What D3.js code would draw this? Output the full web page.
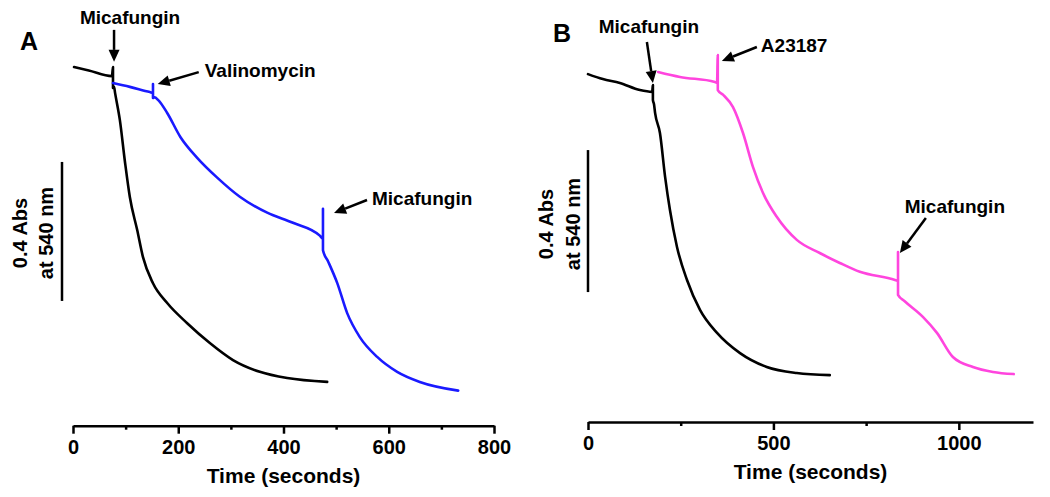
<!DOCTYPE html>
<html><head><meta charset="utf-8">
<script src="https://cdn.jsdelivr.net/npm/d3@7"></script>
<style>body{margin:0;background:#fff}svg{display:block}text{font-family:"Liberation Sans",Arial,sans-serif;font-weight:bold;fill:#000}</style>
</head><body>
<svg id="c" width="1050" height="497"></svg>
<script>
// Panel A: control (black) and valinomycin pre-treated (blue)
const aBlackT = [2, 30, 74, 76, 76, 78, 80, 89, 99, 108, 122, 133, 152, 179, 217, 260, 304, 355, 407, 483];
const aBlackV = [1.032, 1.022, 1.006, 1.032, 0.972, 0.975, 0.957, 0.880, 0.756, 0.658, 0.563, 0.485, 0.410, 0.353, 0.295, 0.238, 0.189, 0.155, 0.137, 0.126];
const aBlueT = [76, 108, 146, 152, 152, 152, 155, 162, 179, 204, 236, 274, 317, 369, 418, 469, 475, 475, 475, 485, 502, 521, 545, 578, 616, 659, 732];
const aBlueV = [0.986, 0.975, 0.960, 0.958, 0.983, 0.943, 0.945, 0.937, 0.900, 0.831, 0.771, 0.714, 0.659, 0.613, 0.584, 0.547, 0.538, 0.624, 0.505, 0.472, 0.411, 0.324, 0.255, 0.198, 0.155, 0.126, 0.101];
// Panel B: control (black) and A23187 pre-treated (pink)
const bBlackT = [0, 40, 86, 140, 173, 175, 175, 178, 181, 194, 208, 221, 240, 267, 302, 348, 410, 482, 563, 652];
const bBlackV = [0.980, 0.966, 0.955, 0.935, 0.930, 0.949, 0.907, 0.895, 0.870, 0.814, 0.690, 0.597, 0.493, 0.400, 0.316, 0.251, 0.194, 0.155, 0.138, 0.132];
const bPinkT = [189, 248, 342, 348, 350, 350, 364, 391, 418, 445, 472, 509, 563, 625, 679, 733, 828, 836, 836, 836, 854, 903, 941, 984, 1038, 1092, 1148];
const bPinkV = [0.986, 0.972, 0.958, 0.956, 1.034, 0.935, 0.922, 0.887, 0.814, 0.718, 0.645, 0.578, 0.513, 0.476, 0.448, 0.423, 0.400, 0.397, 0.479, 0.358, 0.340, 0.296, 0.251, 0.183, 0.155, 0.141, 0.135];

const aTicks = [0, 200, 400, 600, 800];
const aMinor = [100, 300, 500, 700];
const bTicks = [0, 500, 1000];
const bMinor = [250, 750];
const scaleBarAbs = 0.4;
const scaleLabel = ["0.4 Abs", "at 540 nm"];
const xTitle = "Time (seconds)";

// annotations: label, tip time, tip value
const aNotes = [
  {label: "Micafungin", t: 78, v: 1.047},
  {label: "Valinomycin", t: 161, v: 0.983},
  {label: "Micafungin", t: 496, v: 0.612}
];
const bNotes = [
  {label: "Micafungin", t: 175, v: 0.955},
  {label: "A23187", t: 361, v: 1.017},
  {label: "Micafungin", t: 841, v: 0.476}
];

const svg = d3.select("#c");
const BLUE = "#1a1aff", PINK = "#ff45de";

function panel(cfg) {
  const g = svg.append("g");
  const x = d3.scaleLinear().domain(cfg.xDomain).range(cfg.xRange);
  const y = d3.scaleLinear().domain([0, scaleBarAbs]).range([cfg.y0, cfg.y0 - cfg.barPx]);
  // axis
  const ax = g.append("g").attr("transform", `translate(0,${cfg.y0})`)
    .call(d3.axisBottom(x).tickValues(cfg.ticks).tickSizeInner(8).tickSizeOuter(0).tickPadding(6).tickFormat(d3.format("d")));
  ax.select(".domain").attr("stroke", "#000").attr("stroke-width", 2.5);
  ax.selectAll(".tick line").attr("stroke-width", 2.5);
  ax.selectAll(".tick text").attr("font-size", 20).attr("font-family", '"Liberation Sans",Arial,sans-serif').attr("font-weight", "bold");
  g.append("g").attr("transform", `translate(0,${cfg.y0})`)
    .call(d3.axisBottom(x).tickValues(cfg.minor).tickSizeInner(4).tickSizeOuter(0).tickFormat(""))
    .call(s => s.select(".domain").remove())
    .selectAll(".tick line").attr("stroke-width", 2.5);
  g.append("text").attr("x", (cfg.xRange[0] + cfg.xRange[1]) / 2).attr("y", cfg.y0 + 57)
    .attr("text-anchor", "middle").attr("font-size", 21).text(xTitle);
  // scale bar
  g.append("line").attr("x1", cfg.barX).attr("x2", cfg.barX)
    .attr("y1", y(cfg.barTop)).attr("y2", y(cfg.barTop - scaleBarAbs))
    .attr("stroke", "#000").attr("stroke-width", 2.5);
  scaleLabel.forEach((s, i) => {
    g.append("text").attr("transform", `translate(${cfg.labX[i]},${cfg.labY}) rotate(-90)`)
      .attr("text-anchor", "middle").attr("font-size", 20).text(s);
  });
  // curves
  const line = d3.line().x(d => x(d[0])).y(d => y(d[1])).curve(d3.curveMonotoneX);
  cfg.series.forEach(s => {
    g.append("path").datum(d3.zip(s.t, s.v)).attr("d", line)
      .attr("fill", "none").attr("stroke", s.color).attr("stroke-width", 2.6)
      .attr("stroke-linejoin", "round").attr("stroke-linecap", "round");
  });
  // annotations
  cfg.notes.forEach((n, i) => {
    const o = cfg.noteOff[i];
    const tx = x(n.t), ty = y(n.v);
    const sx = tx + o.dx, sy = ty + o.dy;
    const ang = Math.atan2(ty - sy, tx - sx);
    const hl = 12, hw = 5.5;
    const bx = tx - hl * Math.cos(ang), by = ty - hl * Math.sin(ang);
    g.append("line").attr("x1", sx).attr("y1", sy).attr("x2", bx).attr("y2", by)
      .attr("stroke", "#000").attr("stroke-width", 2.5);
    const px = -Math.sin(ang) * hw, py = Math.cos(ang) * hw;
    g.append("path").attr("d", `M${tx},${ty}L${bx + px},${by + py}L${bx - px},${by - py}Z`).attr("fill", "#000");
    g.append("text").attr("x", tx + o.lx).attr("y", ty + o.ly).attr("text-anchor", o.anchor)
      .attr("font-size", 19).text(n.label);
  });
  g.append("text").attr("x", cfg.letter[0]).attr("y", cfg.letter[1]).attr("font-size", 25).text(cfg.letter[2]);
}

panel({
  xDomain: [0, 800], xRange: [73, 494], y0: 425.7, barPx: 139, ticks: aTicks, minor: aMinor,
  barX: 62, barTop: 0.759, labX: [27, 53], labY: 233,
  series: [{t: aBlackT, v: aBlackV, color: "#000"}, {t: aBlueT, v: aBlueV, color: BLUE}],
  notes: aNotes,
  noteOff: [
    {dx: 0, dy: -32, lx: 16, ly: -38, anchor: "middle"},
    {dx: 41, dy: -12, lx: 47, ly: -7, anchor: "start"},
    {dx: 33, dy: -13, lx: 38, ly: -8, anchor: "start"}
  ],
  letter: [20, 50, "A"]
});
panel({
  xDomain: [0, 1200], xRange: [588, 1033], y0: 422, barPx: 142, ticks: bTicks, minor: bMinor,
  barX: 588, barTop: 0.766, labX: [553, 580], labY: 224,
  series: [{t: bBlackT, v: bBlackV, color: "#000"}, {t: bPinkT, v: bPinkV, color: PINK}],
  notes: bNotes,
  noteOff: [
    {dx: -6, dy: -41, lx: -4, ly: -50, anchor: "middle"},
    {dx: 35, dy: -14, lx: 39, ly: -9, anchor: "start"},
    {dx: 26, dy: -35, lx: 55, ly: -40, anchor: "middle"}
  ],
  letter: [553, 42, "B"]
});
</script>
</body></html>
